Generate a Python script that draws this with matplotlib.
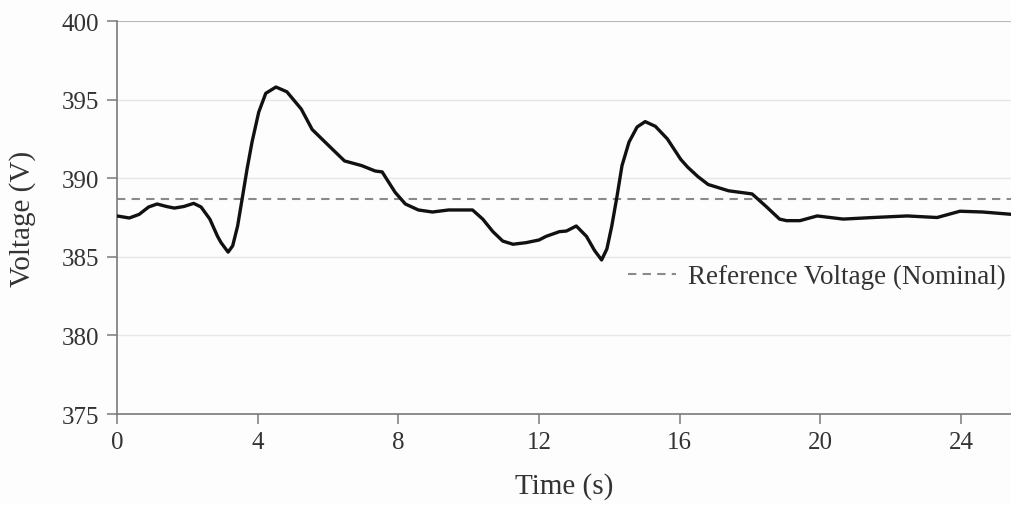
import matplotlib.pyplot as plt
import numpy as np

# values
time_s = [0.00, 0.35, 0.63, 0.90, 1.14, 1.41, 1.63, 1.90, 2.18, 2.39, 2.64, 2.86, 2.96,
          3.16, 3.29, 3.43, 3.56, 3.70, 3.84, 4.03, 4.23, 4.52, 4.83, 5.24, 5.55, 6.10,
          6.47, 6.96, 7.34, 7.54, 7.71, 7.91, 8.20, 8.57, 8.97, 9.43, 10.11, 10.40, 10.69,
          10.97, 11.26, 11.63, 12.00, 12.20, 12.58, 12.78, 13.06, 13.35, 13.58, 13.78,
          13.93, 14.07, 14.22, 14.36, 14.56, 14.79, 15.02, 15.31, 15.65, 16.03, 16.23,
          16.52, 16.81, 17.39, 18.06, 18.46, 18.84, 19.04, 19.42, 19.91, 20.65, 21.50,
          22.47, 23.32, 23.97, 24.62, 25.45]
voltage = [387.6, 387.47, 387.7, 388.17, 388.36, 388.2, 388.1, 388.2, 388.4, 388.17, 387.4,
           386.3, 385.9, 385.3, 385.7, 386.96, 388.7, 390.6, 392.3, 394.2, 395.4, 395.8,
           395.5, 394.4, 393.1, 391.9, 391.1, 390.8, 390.46, 390.4, 389.8, 389.1, 388.36,
           387.98, 387.85, 387.98, 387.98, 387.4, 386.6, 386.0, 385.8, 385.9, 386.07, 386.3,
           386.6, 386.64, 386.96, 386.3, 385.4, 384.8, 385.5, 386.96, 388.87, 390.8, 392.3,
           393.26, 393.6, 393.3, 392.5, 391.2, 390.7, 390.1, 389.6, 389.2, 389.0, 388.2,
           387.4, 387.3, 387.3, 387.6, 387.4, 387.5, 387.6, 387.5, 387.9, 387.85, 387.7]
ref_voltage = 388.7
x_ticks = [0, 4, 8, 12, 16, 20, 24]
y_ticks = [375, 380, 385, 390, 395, 400]

plt.rcParams['font.family'] = ['Liberation Serif', 'DejaVu Serif']

fig = plt.figure(figsize=(10.12, 5.06), dpi=100, facecolor='#fdfdfd')
ax = fig.add_axes([0.1156, 0.1798, 0.8844, 0.7767])
ax.set_facecolor('#fdfdfd')

ax.plot(time_s, voltage, color='#111111', lw=2.4, solid_joinstyle='round',
        solid_capstyle='round', zorder=3)
ax.axhline(ref_voltage, color='#8a8a8a', lw=1.5, ls=(0, (4, 3)), zorder=2,
           label='Reference Voltage (Nominal)')

ax.set_xlim(0, 25.45)
ax.set_ylim(375, 400)
ax.set_xticks(x_ticks)
ax.set_yticks(y_ticks)
ax.grid(axis='y', color='#e6e6e6', lw=1)
ax.set_axisbelow(True)

for s in ['top', 'right']:
    ax.spines[s].set_visible(False)
for s in ['left', 'bottom']:
    ax.spines[s].set_color('#7a7a7a')
    ax.spines[s].set_linewidth(1.2)
ax.axhline(400, color='#b0b0b0', lw=1.2, zorder=1)

ax.tick_params(axis='both', colors='#7a7a7a', labelcolor='#333333', labelsize=18,
               length=7, width=1.1, direction='out')
ax.tick_params(axis='x', pad=5)
ax.tick_params(axis='y', pad=6)

ax.set_xlabel('Time (s)', fontsize=21, color='#333333', labelpad=14)
ax.set_ylabel('Voltage (V)', fontsize=21, color='#333333', labelpad=18)

leg = ax.legend(loc='center right', bbox_to_anchor=(0.993, 0.349), frameon=False,
                fontsize=19.5, handlelength=1.75, handletextpad=0.45, borderpad=0,
                borderaxespad=0)
for t in leg.get_texts():
    t.set_color('#333333')

fig.savefig('out.png', dpi=100, facecolor=fig.get_facecolor())
